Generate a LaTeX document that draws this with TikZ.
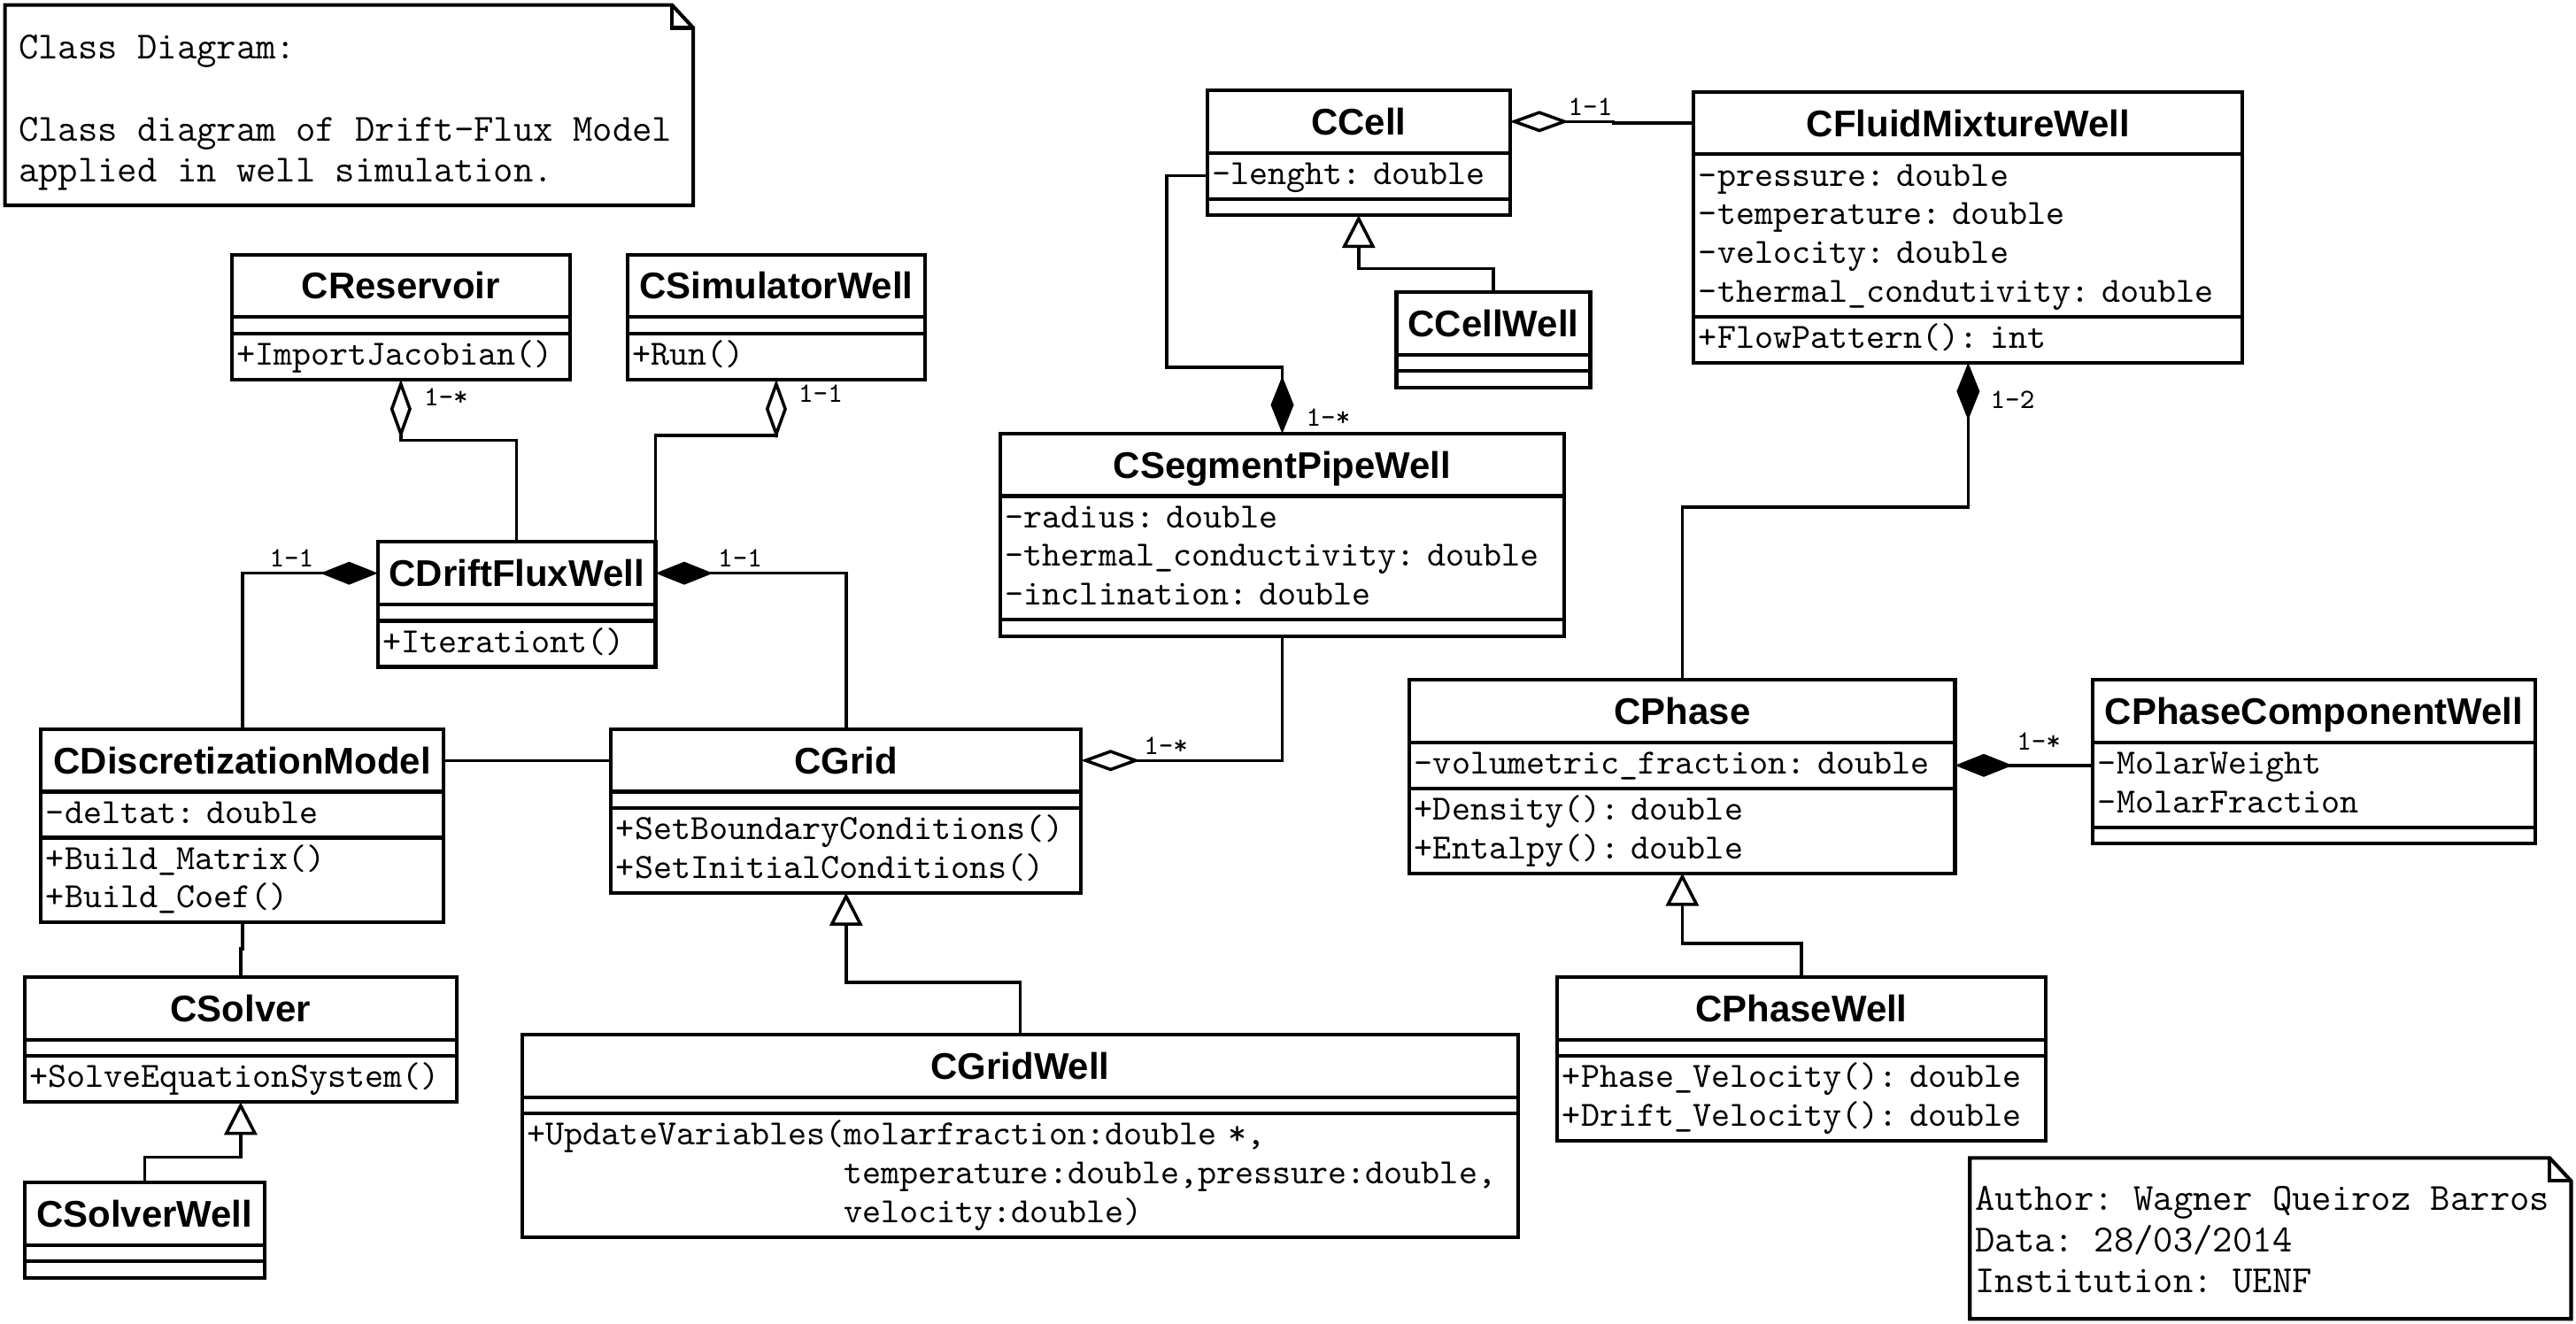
\documentclass[tikz,border=0pt]{standalone}
\usepackage{fontspec}
\setsansfont{Liberation Sans}
\usetikzlibrary{arrows.meta, positioning}
\frenchspacing

\tikzset{
  classname/.style={draw, line width=1.1pt, inner sep=0pt, outer sep=0pt,
    minimum height=19pt, text height=8.1pt, text depth=0pt,
    font=\fontsize{11.3}{13.6}\selectfont\sffamily\bfseries},
  classpart/.style={draw, line width=1.1pt, inner xsep=1.5pt, inner ysep=0.85pt,
    outer sep=0pt, align=left, font=\fontsize{10.8}{11.8}\selectfont\ttfamily,
    execute at begin node={\rule{0pt}{8.76pt}}, execute at end node=\strut},
  classempty/.style={draw, line width=1.1pt, inner sep=0pt, outer sep=0pt,
    minimum height=5pt},
  notebox/.style={inner sep=0pt, outer sep=0pt},
  notetext/.style={inner sep=0pt, align=left, font=\fontsize{11.7}{12.5}\selectfont\ttfamily,
    execute at begin node=\strut},
  noteline/.style={line width=1.1pt, line join=miter},
  mult/.style={inner sep=0pt, font=\fontsize{8.5}{9.5}\selectfont\ttfamily},
  assoc/.style={line width=0.95pt},
  aggr/.style={assoc, {Diamond[open,length=18pt,width=6.5pt]}-},
  comp/.style={assoc, {Diamond[length=17.5pt,width=7pt]}-},
  gen/.style={assoc, -{Triangle[open,length=10pt,width=10pt]}},
}

\begin{document}
\begin{tikzpicture}[x=0.5pt,y=-0.5pt,line join=miter]
\useasboundingbox[fill=white] (0,0) rectangle (1568,806);
%% notes
\node[notebox, minimum width=209.5pt, minimum height=61pt, anchor=north west] (note_title) at (3,3) {};
\node[notetext, anchor=north west] (note_title_text) at ([shift={(8,18)}]note_title.north west)
  {Class Diagram:\\\mbox{}\\Class diagram of Drift-Flux Model\\applied in well simulation.};
\draw[noteline] (note_title.north west) -- ([xshift=-6.5pt]note_title.north east) -- ([yshift=-7pt]note_title.north east)
  -- (note_title.south east) -- (note_title.south west) -- cycle;
\draw[noteline] ([xshift=-6.5pt]note_title.north east) |- ([yshift=-7pt]note_title.north east);
\node[notebox, minimum width=183pt, minimum height=49pt, anchor=north west] (note_author) at (1199,705) {};
\node[notetext, anchor=north west] (note_author_text) at ([shift={(3,17)}]note_author.north west)
  {Author: Wagner Queiroz Barros\\Data: 28/03/2014\\Institution: UENF};
\draw[noteline] (note_author.north west) -- ([xshift=-6.5pt]note_author.north east) -- ([yshift=-7pt]note_author.north east)
  -- (note_author.south east) -- (note_author.south west) -- cycle;
\draw[noteline] ([xshift=-6.5pt]note_author.north east) |- ([yshift=-7pt]note_author.north east);
%% classes
\node[classname, minimum width=103pt, anchor=north west] (c_reservoir) at (141,155) {CReservoir};
\node[classempty, minimum width=103pt, below=0pt of c_reservoir] (c_reservoir_a) {};
\node[classpart, text width=100pt, below=0pt of c_reservoir_a] (c_reservoir_m) {+ImportJacobian()};

\node[classname, minimum width=90.5pt, anchor=north west] (c_simulator) at (382,155) {CSimulatorWell};
\node[classempty, minimum width=90.5pt, below=0pt of c_simulator] (c_simulator_a) {};
\node[classpart, text width=87.5pt, below=0pt of c_simulator_a] (c_simulator_m) {+Run()};

\node[classname, minimum width=84.5pt, anchor=north west] (c_driftflux) at (230,330) {CDriftFluxWell};
\node[classempty, minimum width=84.5pt, below=0pt of c_driftflux] (c_driftflux_a) {};
\node[classpart, text width=81.5pt, below=0pt of c_driftflux_a] (c_driftflux_m) {+Iterationt()};

\node[classname, minimum width=122.5pt, anchor=north west] (c_discret) at (25,444) {CDiscretizationModel};
\node[classpart, text width=119.5pt, below=0pt of c_discret] (c_discret_a) {-deltat: double};
\node[classpart, text width=119.5pt, below=0pt of c_discret_a] (c_discret_m) {+Build\_Matrix()\\+Build\_Coef()};

\node[classname, minimum width=143pt, anchor=north west] (c_grid) at (372,444) {CGrid};
\node[classempty, minimum width=143pt, below=0pt of c_grid] (c_grid_a) {};
\node[classpart, text width=140pt, below=0pt of c_grid_a] (c_grid_m) {+SetBoundaryConditions()\\+SetInitialConditions()};

\node[classname, minimum width=131.5pt, anchor=north west] (c_solver) at (15,595) {CSolver};
\node[classempty, minimum width=131.5pt, below=0pt of c_solver] (c_solver_a) {};
\node[classpart, text width=128.5pt, below=0pt of c_solver_a] (c_solver_m) {+SolveEquationSystem()};

\node[classname, minimum width=73pt, anchor=north west] (c_solverwell) at (15,720) {CSolverWell};
\node[classempty, minimum width=73pt, below=0pt of c_solverwell] (c_solverwell_a) {};
\node[classempty, minimum width=73pt, below=0pt of c_solverwell_a] (c_solverwell_m) {};

\node[classname, minimum width=303pt, anchor=north west] (c_gridwell) at (318,630) {CGridWell};
\node[classempty, minimum width=303pt, below=0pt of c_gridwell] (c_gridwell_a) {};
\node[classpart, text width=300pt, below=0pt of c_gridwell_a] (c_gridwell_m)
  {+UpdateVariables(molarfraction:double *,\\
   \phantom{+UpdateVariables(}temperature:double,pressure:double,\\
   \phantom{+UpdateVariables(}velocity:double)};

\node[classname, minimum width=92pt, anchor=north west] (c_cell) at (735,55) {CCell};
\node[classpart, text width=89pt, below=0pt of c_cell] (c_cell_a) {-lenght: double};
\node[classempty, minimum width=92pt, below=0pt of c_cell_a] (c_cell_m) {};

\node[classname, minimum width=59pt, anchor=north west] (c_cellwell) at (850,178) {CCellWell};
\node[classempty, minimum width=59pt, below=0pt of c_cellwell] (c_cellwell_a) {};
\node[classempty, minimum width=59pt, below=0pt of c_cellwell_a] (c_cellwell_m) {};

\node[classname, minimum width=171.5pt, anchor=north west] (c_segment) at (609,264) {CSegmentPipeWell};
\node[classpart, text width=168.5pt, below=0pt of c_segment] (c_segment_a)
  {-radius: double\\-thermal\_conductivity: double\\-inclination: double};
\node[classempty, minimum width=171.5pt, below=0pt of c_segment_a] (c_segment_m) {};

\node[classname, minimum width=167pt, anchor=north west] (c_fluid) at (1031,56) {CFluidMixtureWell};
\node[classpart, text width=164pt, below=0pt of c_fluid] (c_fluid_a)
  {-pressure: double\\-temperature: double\\-velocity: double\\-thermal\_condutivity: double};
\node[classpart, text width=164pt, below=0pt of c_fluid_a] (c_fluid_m) {+FlowPattern(): int};

\node[classname, minimum width=166pt, anchor=north west] (c_phase) at (858,414) {CPhase};
\node[classpart, text width=163pt, below=0pt of c_phase] (c_phase_a) {-volumetric\_fraction: double};
\node[classpart, text width=163pt, below=0pt of c_phase_a] (c_phase_m) {+Density(): double\\+Entalpy(): double};

\node[classname, minimum width=134.5pt, anchor=north west] (c_component) at (1274,414) {CPhaseComponentWell};
\node[classpart, text width=131.5pt, below=0pt of c_component] (c_component_a) {-MolarWeight\\-MolarFraction};
\node[classempty, minimum width=134.5pt, below=0pt of c_component_a] (c_component_m) {};

\node[classname, minimum width=148.5pt, anchor=north west] (c_phasewell) at (948,595) {CPhaseWell};
\node[classempty, minimum width=148.5pt, below=0pt of c_phasewell] (c_phasewell_a) {};
\node[classpart, text width=145.5pt, below=0pt of c_phasewell_a] (c_phasewell_m)
  {+Phase\_Velocity(): double\\+Drift\_Velocity(): double};
%% relations
\draw[aggr] (c_reservoir_m.south) -- ++(0,37) -| (c_driftflux.north);
\draw[aggr] (c_simulator_m.south) -- ++(0,34) -| (c_driftflux.north east);
\draw[comp] (c_driftflux.west) -| (c_discret.north);
\draw[comp] (c_driftflux.east) -| (c_grid.north);
\draw[assoc] (c_discret.east) -- (c_grid.west);
\draw[assoc] (c_discret_m.south) -- ++(0,16) -| (c_solver.north);
\draw[gen] (c_solverwell.north) -- ++(0,-15.6) -| (c_solver_m.south);
\draw[gen] (c_gridwell.north) -- ++(0,-32) -| (c_grid_m.south);
\draw[aggr] (c_grid.east) -| (c_segment_m.south);
\draw[comp] (c_segment.north) -- ++(0,-40.5) -| ([xshift=-12.4pt]c_cell_a.west) -- (c_cell_a.west);
\draw[gen] (c_cellwell.north) -- ++(0,-14.4) -| (c_cell_m.south);
\draw[aggr] (c_cell.east) -- ++(63,0) |- (c_fluid.west);
\draw[comp] (c_fluid_m.south) -- ++(0,88) -| (c_phase.north);
\draw[comp] (c_phase_a.east) -- (c_phase_a.east -| c_component_a.west);
\draw[gen] (c_phasewell.north) -- ++(0,-20.6) -| (c_phase_m.south);
%
\node[mult] (mult_reservoir) at ([shift={(27.5,10.6)}]c_reservoir_m.south) {1-*};
\node[mult] (mult_simulator) at ([shift={(27,8.6)}]c_simulator_m.south) {1-1};
\node[mult] (mult_discret) at ([shift={(-52.5,-9)}]c_driftflux.west) {1-1};
\node[mult] (mult_grid) at ([shift={(51.5,-9)}]c_driftflux.east) {1-1};
\node[mult] (mult_segment) at ([shift={(51.7,-9)}]c_grid.east) {1-*};
\node[mult] (mult_cell) at ([shift={(28,-10)}]c_segment.north) {1-*};
\node[mult] (mult_fluid) at ([shift={(49,-9)}]c_cell.east) {1-1};
\node[mult] (mult_phase) at ([shift={(27,22.4)}]c_fluid_m.south) {1-2};
\node[mult] (mult_component) at ([shift={(51,-14.4)}]c_phase_a.east) {1-*};
\end{tikzpicture}
\end{document}
